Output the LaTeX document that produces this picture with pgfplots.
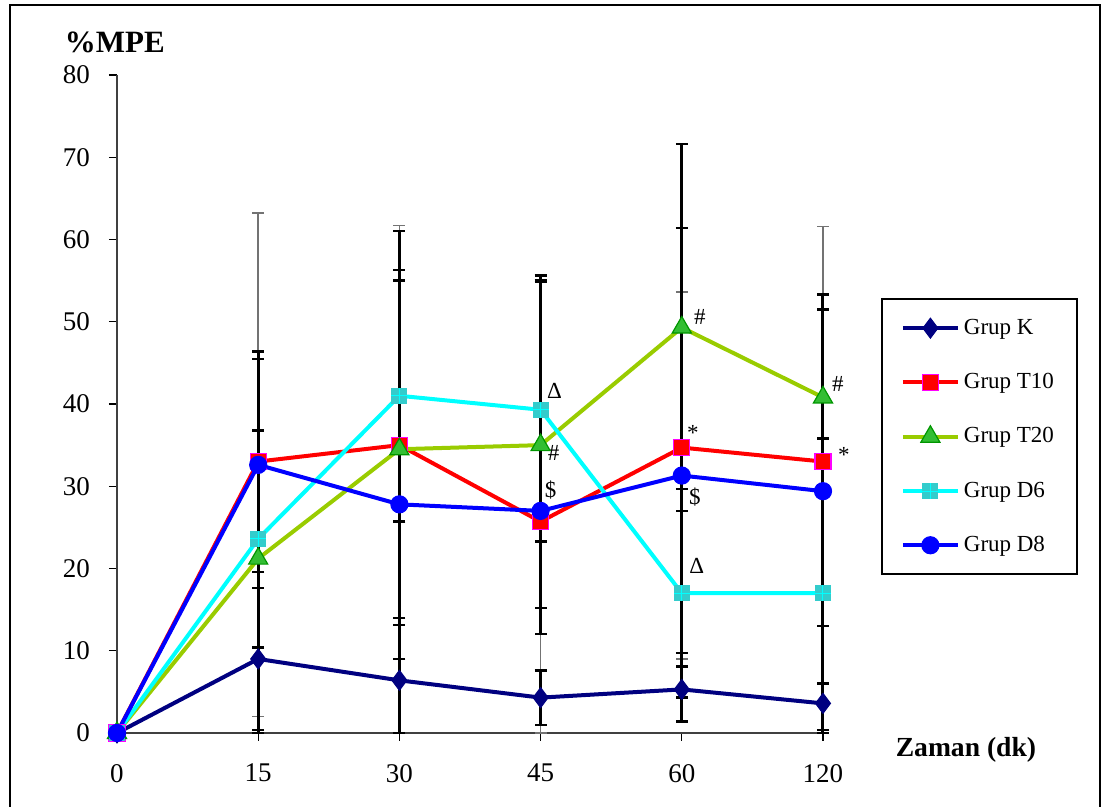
\documentclass[border=0pt]{standalone}
\usepackage{pgfplots}
\pgfplotsset{compat=1.18}
\usepackage{fontspec}
\setmainfont{Liberation Serif}
\definecolor{kcol}{RGB}{0,0,128}
\definecolor{t10line}{RGB}{255,0,0}
\definecolor{t10edge}{RGB}{255,0,255}
\definecolor{t20line}{RGB}{153,204,0}
\definecolor{t20fill}{RGB}{51,190,51}
\definecolor{t20edge}{RGB}{0,150,0}
\definecolor{d6line}{RGB}{0,255,255}
\definecolor{d6fill}{RGB}{51,204,204}
\definecolor{d8col}{RGB}{0,0,255}
\pgfdeclareplotmark{sqplus}{%
  \pgfsetfillcolor{d6fill}%
  \pgfpathrectangle{\pgfqpoint{-\pgfplotmarksize}{-\pgfplotmarksize}}{\pgfqpoint{2\pgfplotmarksize}{2\pgfplotmarksize}}%
  \pgfusepathqfill
  \pgfsetstrokecolor{d6line}\pgfsetlinewidth{0.5pt}%
  \pgfpathmoveto{\pgfqpoint{-\pgfplotmarksize}{0pt}}\pgfpathlineto{\pgfqpoint{\pgfplotmarksize}{0pt}}%
  \pgfpathmoveto{\pgfqpoint{0pt}{-\pgfplotmarksize}}\pgfpathlineto{\pgfqpoint{0pt}{\pgfplotmarksize}}%
  \pgfusepathqstroke}
\begin{document}
\begin{tikzpicture}
\path[use as bounding box] (-58.5pt,-37pt) rectangle (496pt,366.5pt);
\begin{axis}[
  scale only axis, width=353pt, height=329pt,
  xmin=0, xmax=5, ymin=0, ymax=80,
  axis x line*=bottom, axis y line*=left,
  xtick={0,1,2,3,4,5}, xticklabels={0,15,30,45,60,120},
  ytick={0,10,...,80},
  tick align=outside, major tick length=4pt,
  every tick/.style={black, line width=0.6pt},
  axis line style={black!75, line width=0.7pt},
  ticklabel style={font=\fontsize{13.5}{15}\selectfont},
  xticklabel style={yshift=-8pt},
  yticklabel style={xshift=-6pt},
  /pgf/number format/assume math mode=true,
  clip=false,
  legend cell align=left,
  legend image code/.code={\draw[mark repeat=2,mark phase=2,#1] plot coordinates {(0pt,0pt) (13.75pt,0pt) (27.5pt,0pt)};},
  legend style={at={(1.082,0.661)}, anchor=north west, draw=black, line width=1pt,
    font=\fontsize{11.5}{13}\selectfont, row sep=14pt, inner xsep=9.5pt, inner ysep=8pt,
    nodes={inner xsep=2pt}},
]
% error bars (drawn first, behind lines)
\addplot[forget plot, draw=none, mark=none,
  error bars/.cd, y dir=both, y explicit,
  error bar style={draw=black!55, line width=0.7pt},
  error mark options={rotate=90, draw=black!55, mark size=3pt, line width=0.7pt}]
  coordinates {(1,32.6) +- (0,30.6) (2,27.8) += (0,33.9) -= (0,27.8) (3,27) += (0,28.1) -= (0,27) (4,31.3) +- (0,22.3) (5,29.4) += (0,32.2) -= (0,29.4)};
\addplot[forget plot, draw=none, mark=none,
  error bars/.cd, y dir=both, y explicit,
  error bar style={draw=black, line width=1.5pt},
  error mark options={rotate=90, draw=black, mark size=3pt, line width=1.2pt}]
  coordinates {(1,9.0) +- (0,8.6) (2,6.4) += (0,6.7) -= (0,6.4) (3,4.3) +- (0,3.3) (4,5.3) += (0,4.4) -= (0,3.9) (5,3.6) += (0,2.4) -= (0,3.2)};
\addplot[forget plot, draw=none, mark=none,
  error bars/.cd, y dir=both, y explicit,
  error bar style={draw=black, line width=1.5pt},
  error mark options={rotate=90, draw=black, mark size=3pt, line width=1.2pt}]
  coordinates {(1,33) +- (0,13.4) (2,35) +- (0,26) (3,25.7) += (0,29.4) -= (0,13.7) (4,34.7) += (0,26.7) -= (0,26.6) (5,33) += (0,20.3) -= (0,20.0)};
\addplot[forget plot, draw=none, mark=none,
  error bars/.cd, y dir=both, y explicit,
  error bar style={draw=black, line width=1.5pt},
  error mark options={rotate=90, draw=black, mark size=3pt, line width=1.2pt}]
  coordinates {(1,21.2) += (0,24.3) -= (0,21.2) (2,34.5) +- (0,20.5) (3,35) +- (0,19.8) (4,49.3) +- (0,22.3) (5,40.8) +- (0,10.7)};
\addplot[forget plot, draw=none, mark=none,
  error bars/.cd, y dir=both, y explicit,
  error bar style={draw=black, line width=1.5pt},
  error mark options={rotate=90, draw=black, mark size=3pt, line width=1.2pt}]
  coordinates {(1,23.6) +- (0,13.2) (2,41) +- (0,15.3) (3,39.3) += (0,16.3) -= (0,16.0) (4,17) +- (0,12.7) (5,17) += (0,18.8) -= (0,17)};
% series
\addplot[color=kcol, line width=2pt, mark=diamond*, mark size=5pt, mark options={fill=kcol, draw=kcol, line width=0.5pt}]
  coordinates {(0,0) (1,9.0) (2,6.4) (3,4.3) (4,5.3) (5,3.6)};
\addlegendentry{Grup K}
\addplot[color=t10line, line width=2pt, mark=square*, mark size=4pt, mark options={fill=t10line, draw=t10edge, line width=0.6pt}]
  coordinates {(0,0) (1,33) (2,35) (3,25.7) (4,34.7) (5,33)};
\addlegendentry{Grup T10}
\addplot[color=t20line, line width=2pt, mark=triangle*, mark size=5.5pt, mark options={fill=t20fill, draw=t20edge, line width=0.6pt}]
  coordinates {(0,0) (1,21.2) (2,34.5) (3,35) (4,49.3) (5,40.8)};
\addlegendentry{Grup T20}
\addplot[color=d6line, line width=2pt, mark=sqplus, mark size=4pt]
  coordinates {(0,0) (1,23.6) (2,41) (3,39.3) (4,17) (5,17)};
\addlegendentry{Grup D6}
\addplot[color=d8col, line width=2pt, mark=*, mark size=4.3pt, mark options={fill=d8col, draw=d8col, line width=0.5pt}]
  coordinates {(0,0) (1,32.6) (2,27.8) (3,27) (4,31.3) (5,29.4)};
\addlegendentry{Grup D8}
% annotations
\begin{scope}[every node/.style={font=\fontsize{11.5}{13}\selectfont, inner sep=0pt}]
\node at (axis cs:3,39.3) [xshift=7pt,yshift=9.5pt] {Δ};
\node at (axis cs:3,35) [xshift=6.5pt,yshift=-4pt] {\#};
\node at (axis cs:3,27) [xshift=5pt,yshift=10.5pt] {\$};
\node at (axis cs:4,49.3) [xshift=9pt,yshift=5.5pt] {\#};
\node at (axis cs:4,34.7) [xshift=5.5pt,yshift=7.5pt] {*};
\node at (axis cs:4,31.3) [xshift=6.5pt,yshift=-10.5pt] {\$};
\node at (axis cs:4,17) [xshift=7.5pt,yshift=13.5pt] {Δ};
\node at (axis cs:5,40.8) [xshift=7.5pt,yshift=6.5pt] {\#};
\node at (axis cs:5,33) [xshift=10.5pt,yshift=3.5pt] {*};
\end{scope}
\node[font=\bfseries\fontsize{15.5}{17}\selectfont] at (rel axis cs:-0.003,1.05) {\%MPE};
\node[font=\bfseries\fontsize{13.8}{16}\selectfont] at (rel axis cs:1.2025,-0.026) {Zaman (dk)};
\end{axis}
\draw[line width=1.4pt] (-53.5pt,-40pt) -- (-53.5pt,364pt) -- (491.5pt,364pt) -- (491.5pt,-40pt);
\end{tikzpicture}
\end{document}
